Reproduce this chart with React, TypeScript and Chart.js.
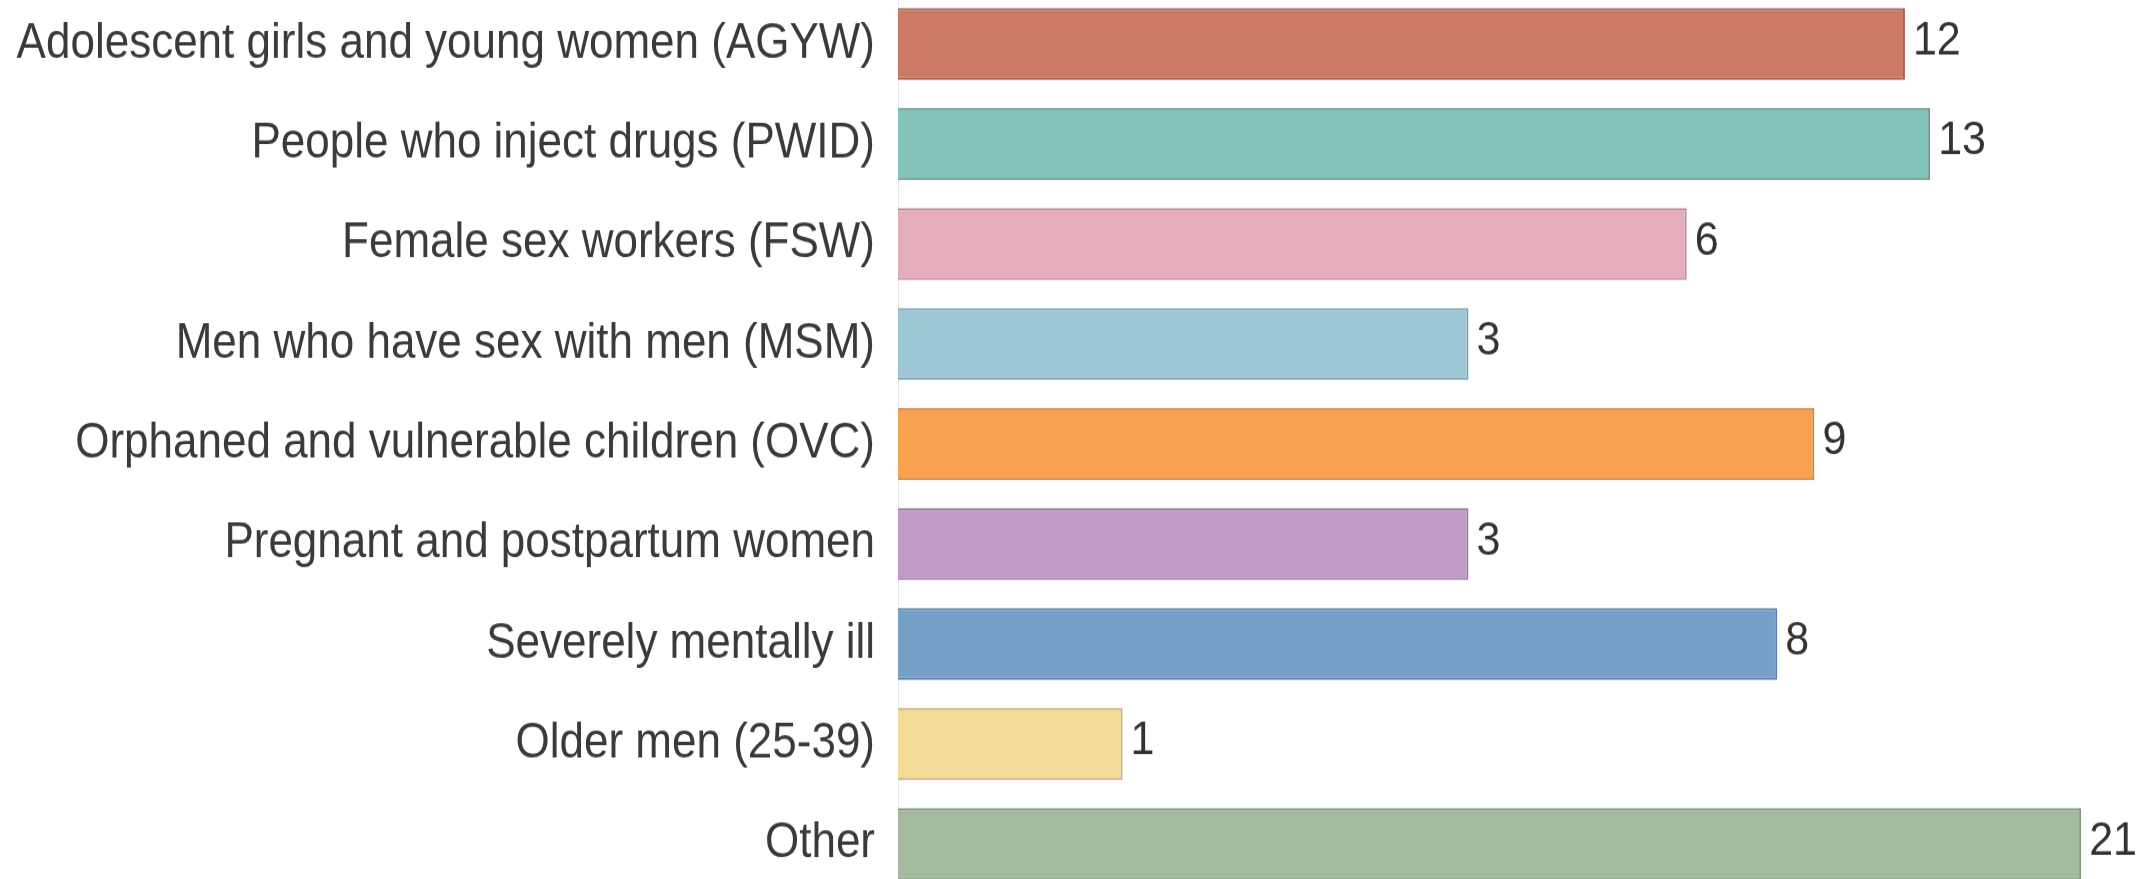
import React, { useEffect, useRef } from "react";
import { Chart, registerables } from "chart.js";

Chart.register(...registerables);

const categories = [
  "Adolescent girls and young women (AGYW)",
  "People who inject drugs (PWID)",
  "Female sex workers (FSW)",
  "Men who have sex with men (MSM)",
  "Orphaned and vulnerable children (OVC)",
  "Pregnant and postpartum women",
  "Severely mentally ill",
  "Older men (25-39)",
  "Other",
];

const counts = [12, 13, 6, 3, 9, 3, 8, 1, 21];

const fillColors = [
  "#CC7A66",
  "#84C3BA",
  "#E4ADBB",
  "#9DC7D4",
  "#F8A14F",
  "#BF9AC5",
  "#77A0C7",
  "#F2DC97",
  "#A5B99F",
];

const borderColors = [
  "#A5604F",
  "#679A93",
  "#BD8C98",
  "#7CA3AF",
  "#CD823F",
  "#997BA0",
  "#5C80A4",
  "#CAB476",
  "#82987D",
];

const axisMin = 0.49;
const axisMax = 26.3;

const STRETCH = 1.12;
const CANVAS_W = 2152;
const CANVAS_H = Math.round(900 / STRETCH);

const valueLabels = {
  id: "valueLabels",
  afterDatasetsDraw(chart: any) {
    const ctx = chart.ctx;
    const meta = chart.getDatasetMeta(0);
    ctx.save();
    ctx.font = "43px 'Liberation Sans', Arial, sans-serif";
    ctx.fillStyle = "#333333";
    ctx.textAlign = "left";
    ctx.textBaseline = "middle";
    meta.data.forEach((el: any, i: number) => {
      const v = chart.data.datasets[0].data[i];
      ctx.fillText(String(v), el.x + 8, el.y - 3 / STRETCH);
    });
    ctx.restore();
  },
};

export default function App() {
  const ref = useRef<HTMLCanvasElement | null>(null);

  useEffect(() => {
    if (!ref.current) return;
    const chart = new Chart(ref.current, {
      type: "bar",
      data: {
        labels: categories,
        datasets: [
          {
            data: counts,
            backgroundColor: fillColors,
            borderColor: borderColors,
            borderWidth: 2,
            barPercentage: 0.72,
            categoryPercentage: 1,
          },
        ],
      },
      options: {
        indexAxis: "y",
        animation: false,
        responsive: false,
        maintainAspectRatio: false,
        devicePixelRatio: 1,
        layout: { padding: 0 },
        plugins: {
          legend: { display: false },
          tooltip: { enabled: false },
          title: { display: false },
        },
        scales: {
          x: {
            type: "logarithmic",
            min: axisMin,
            max: axisMax,
            display: false,
          },
          y: {
            grid: { display: false, drawTicks: false },
            border: { display: true, color: "#E6E9F0", width: 1 },
            ticks: {
              padding: 23,
              color: "#3A3A3A",
              font: { family: "'Liberation Sans', Arial, sans-serif", size: 44 },
            },
            afterFit(scale: any) {
              scale.width = 898;
              scale.paddingTop = 0;
              scale.paddingBottom = 0;
            },
          },
        },
      },
      plugins: [valueLabels],
    });
    return () => chart.destroy();
  }, []);

  return (
    <div
      style={{
        position: "fixed",
        left: 0,
        top: 0,
        width: "100vw",
        height: "100vh",
        overflow: "hidden",
        background: "#ffffff",
      }}
    >
      <div
        style={{
          position: "absolute",
          left: 0,
          top: -6,
          width: CANVAS_W,
          height: CANVAS_H,
          transform: `scaleY(${900 / CANVAS_H})`,
          transformOrigin: "top left",
        }}
      >
        <canvas
          ref={ref}
          width={CANVAS_W}
          height={CANVAS_H}
          style={{ display: "block" }}
        />
      </div>
    </div>
  );
}
